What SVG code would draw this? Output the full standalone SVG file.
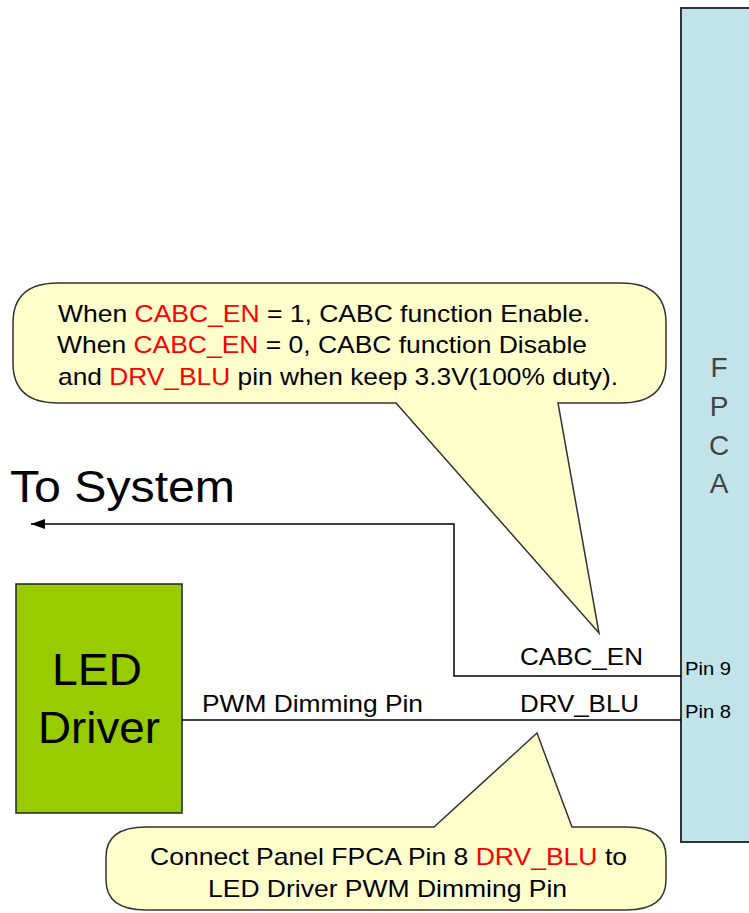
<svg xmlns="http://www.w3.org/2000/svg" width="749" height="913" viewBox="0 0 749 913">
<style>
text{font-family:"Liberation Sans",Arial,sans-serif;fill:#000}
.r{fill:#FF0000}
.callout{fill:#FFFFCC;stroke:#333;stroke-width:1.5}
.wire{fill:none;stroke:#000;stroke-width:1.5}
.t{font-size:24px}
</style>
<defs>
<marker id="arr" markerWidth="16" markerHeight="12" refX="15" refY="6" orient="auto" markerUnits="userSpaceOnUse">
<path d="M1,1 L15,6 L1,11 Z" fill="#000"/>
</marker>
</defs>
<rect width="749" height="913" fill="#fff"/>
<g id="fpca">
<rect x="681" y="8" width="80" height="834" fill="#C0E4EA" stroke="#333" stroke-width="2"/>
<text x="719" y="377" font-size="28" text-anchor="middle" style="fill:#444">F</text>
<text x="719" y="416" font-size="28" text-anchor="middle" style="fill:#444">P</text>
<text x="719" y="455" font-size="28" text-anchor="middle" style="fill:#444">C</text>
<text x="719" y="493" font-size="28" text-anchor="middle" style="fill:#444">A</text>
<text x="685" y="675" font-size="19" textLength="46" lengthAdjust="spacingAndGlyphs">Pin 9</text>
<text x="685" y="718" font-size="19" textLength="46" lengthAdjust="spacingAndGlyphs">Pin 8</text>
</g>
<g id="led-driver">
<rect x="16" y="584" width="166" height="229" fill="#99CC00" stroke="#222" stroke-width="1.5"/>
<text x="97" y="685" font-size="44" text-anchor="middle" textLength="90" lengthAdjust="spacingAndGlyphs">LED</text>
<text x="99" y="743" font-size="44" text-anchor="middle" textLength="122" lengthAdjust="spacingAndGlyphs">Driver</text>
</g>
<g id="connectors">
<polyline class="wire" points="681,676 454,676 454,524 31,524" marker-end="url(#arr)"/>
<line class="wire" x1="182" y1="720" x2="681" y2="720"/>
</g>
<g id="labels">
<text x="10" y="502" font-size="44" textLength="225" lengthAdjust="spacingAndGlyphs">To System</text>
<text x="520" y="665" class="t" textLength="123" lengthAdjust="spacingAndGlyphs">CABC_EN</text>
<text x="520" y="712" class="t" textLength="119" lengthAdjust="spacingAndGlyphs">DRV_BLU</text>
<text x="202" y="712" class="t" textLength="221" lengthAdjust="spacingAndGlyphs">PWM Dimming Pin</text>
</g>
<g id="callout-top">
<path class="callout" d="M58,283 H621 Q666,283 666,323 V363 Q666,403 621,403 H558 L599,633 L396,403 H58 Q13,403 13,363 V323 Q13,283 58,283 Z"/>
<text x="58" y="322" class="t" textLength="532" lengthAdjust="spacingAndGlyphs">When <tspan class="r">CABC_EN</tspan> = 1, CABC function Enable.</text>
<text x="57" y="353" class="t" textLength="530" lengthAdjust="spacingAndGlyphs">When <tspan class="r">CABC_EN</tspan> = 0, CABC function Disable</text>
<text x="58" y="385" class="t" textLength="560" lengthAdjust="spacingAndGlyphs">and <tspan class="r">DRV_BLU</tspan> pin when keep 3.3V(100% duty).</text>
</g>
<g id="callout-bottom">
<path class="callout" d="M146,827 H434 L537,733 L572,827 H626 Q666,827 666,857 V880 Q666,910 626,910 H146 Q106,910 106,880 V857 Q106,827 146,827 Z"/>
<text x="150" y="865" class="t" textLength="477" lengthAdjust="spacingAndGlyphs">Connect Panel FPCA Pin 8 <tspan class="r">DRV_BLU</tspan> to</text>
<text x="208" y="897" class="t" textLength="359" lengthAdjust="spacingAndGlyphs">LED Driver PWM Dimming Pin</text>
</g>
</svg>
